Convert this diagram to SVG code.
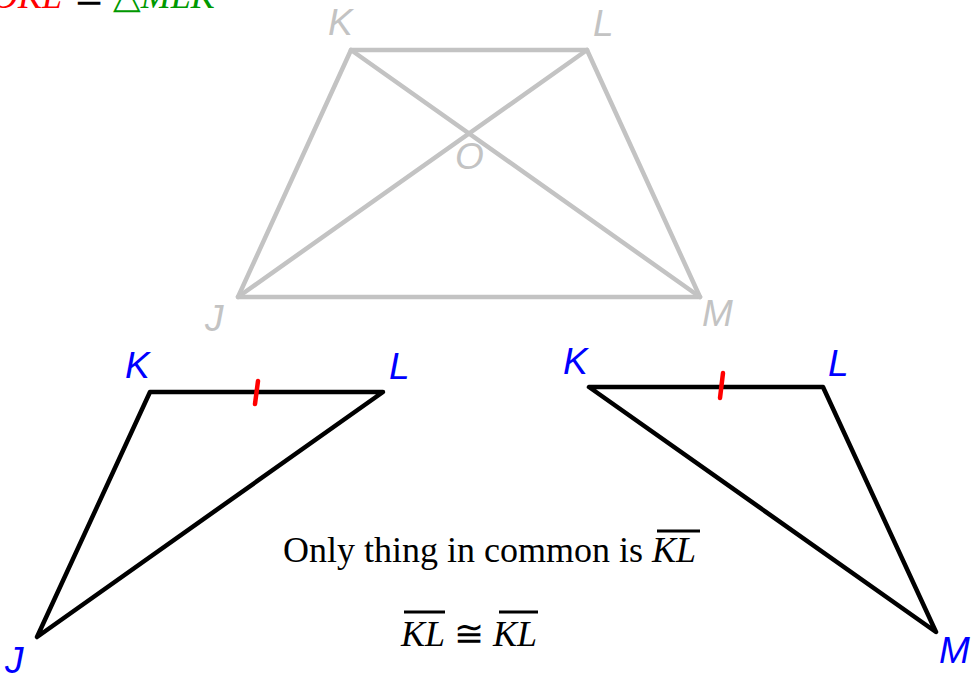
<svg xmlns="http://www.w3.org/2000/svg" width="973" height="675" viewBox="0 0 973 675">
<style>
.gray{fill:none;stroke:#c3c3c3;stroke-width:4.5;stroke-linecap:round;stroke-linejoin:round}
.blk{fill:none;stroke:#000;stroke-width:4.5;stroke-linecap:round;stroke-linejoin:round}
.tick{stroke:#ff0000;stroke-width:4.5;stroke-linecap:round}
.glab{font-family:"Liberation Sans",Arial,sans-serif;font-style:italic;font-size:37px;fill:#c3c3c3}
.blab{font-family:"Liberation Sans",Arial,sans-serif;font-style:italic;font-size:37px;fill:#0000ff}
.serif{font-family:"Liberation Serif","Times New Roman","DejaVu Serif",serif;font-size:36px;fill:#000}
.it{font-style:italic}
.bar{stroke:#000;stroke-width:3}
</style>
<rect width="973" height="675" fill="#fff"/>
<g id="title">
<text class="serif" x="62" y="8" text-anchor="end" style="fill:#ff0000">△<tspan class="it">OKL</tspan></text>
<text class="serif" x="74" y="8">≅</text>
<text class="serif" x="113" y="8" style="fill:#009900">△<tspan class="it">MLK</tspan></text>
</g>
<g id="trapezoid">
<polygon class="gray" points="351,50 587,50 700,297 238,297"/>
<line class="gray" x1="351" y1="50" x2="700" y2="297"/>
<line class="gray" x1="587" y1="50" x2="238" y2="297"/>
<text class="glab" x="328" y="35">K</text>
<text class="glab" x="593" y="36">L</text>
<text class="glab" x="455" y="169">O</text>
<text class="glab" x="205" y="331">J</text>
<text class="glab" x="702" y="326">M</text>
</g>
<g id="triangle-JKL">
<polygon class="blk" points="150,392 383,392 37,637"/>
<line class="tick" x1="258" y1="381" x2="255" y2="404"/>
<text class="blab" x="125" y="378">K</text>
<text class="blab" x="389" y="379">L</text>
<text class="blab" x="5" y="673">J</text>
</g>
<g id="triangle-KLM">
<polygon class="blk" points="589,387 823,387 936,632"/>
<line class="tick" x1="723" y1="373" x2="720" y2="398"/>
<text class="blab" x="563" y="374">K</text>
<text class="blab" x="828" y="376">L</text>
<text class="blab" x="939" y="663">M</text>
</g>
<g id="caption">
<text class="serif" x="283" y="562">Only thing in common is <tspan class="it">KL</tspan></text>
<line class="bar" x1="657" y1="531" x2="700" y2="531"/>
<text class="serif" x="401" y="646"><tspan class="it">KL</tspan> ≅ <tspan class="it">KL</tspan></text>
<line class="bar" x1="404" y1="612" x2="445" y2="612"/>
<line class="bar" x1="499" y1="612" x2="538" y2="612"/>
</g>
</svg>
